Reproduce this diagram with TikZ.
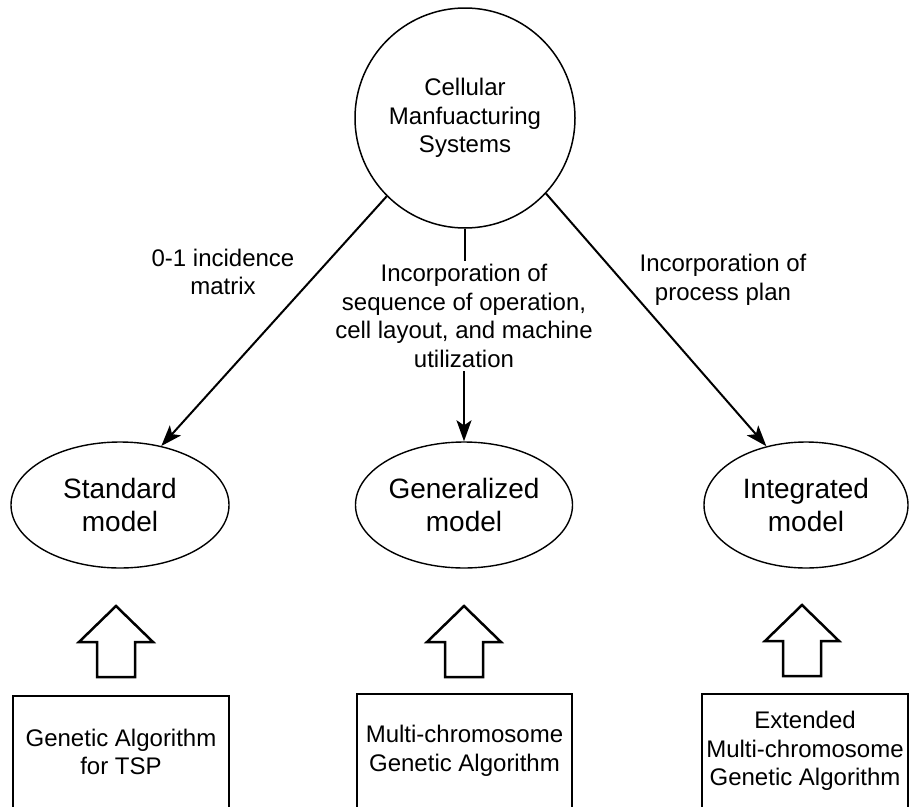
\documentclass[tikz,border=0pt]{standalone}
\usepackage{fontspec}
\setmainfont{Liberation Sans}
\usetikzlibrary{shapes.geometric,arrows.meta}
\begin{document}
\begin{tikzpicture}[x=1pt,y=-1pt,
  every node/.style={font=\fontsize{24}{28.5}\selectfont, align=center},
  hub/.style={circle, draw, line width=1.5pt, minimum size=220pt, inner sep=0pt},
  model/.style={ellipse, draw, line width=1.4pt, minimum height=126pt, inner sep=0pt,
                font=\fontsize{28}{33}\selectfont},
  method/.style={rectangle, draw, line width=1.3pt, inner sep=0pt, minimum height=114pt},
  link/.style={line width=2pt, -{Stealth[length=21pt,width=15pt,inset=5pt]}},
  stub/.style={line width=2pt},
  hollow/.style={draw, line width=2.5pt, line join=miter},
  upblock/.pic={\path[hollow] (-19,35) -- (-19,0) -- (-37,0) -- (0,-36)
                 -- (37,0) -- (19,0) -- (19,35) -- cycle;}
]
\useasboundingbox (0,0) rectangle (910,806);

% top concept
\node[hub] (cms) at (465,118) {Cellular\\Manfuacturing\\Systems};

% the three models
\node[model, minimum width=218pt] (std) at (120,505) {Standard\\model};
\node[model, minimum width=217pt] (gen) at (464,505) {Generalized\\model};
\node[model, minimum width=204pt] (int) at (806,505) {Integrated\\model};

% edge labels
\node (lblstd) at (223,272) {0-1 incidence\\matrix};
\node (lblgen) at (464,316) {Incorporation of\\sequence of operation,\\cell layout, and machine\\utilization};
\node (lblint) at (723,280) {Incorporation of\\process plan};

% connectors
\draw[link] (cms.225) -- (std.55);
\draw[link] (cms.-43) -- (int.124);
\draw[stub] (cms.south) -- (cms.south |- lblgen.north);
\draw[link] (gen.north |- lblgen.south) -- (gen.north);

% solution methods (their lower edges run just past the page)
\node[method, minimum width=216pt, minimum height=112pt] (ga) at (121,752) {Genetic Algorithm\\for TSP};
\node[method, minimum width=215pt] (mcga) at (464.5,751) {Multi-chromosome\\Genetic Algorithm};
\node[method, minimum width=206pt] (emcga) at (805,751) {Extended\\Multi-chromosome\\Genetic Algorithm};

% block arrows from methods to models
\pic at (116,642) {upblock};
\pic at (464,642) {upblock};
\pic at (802,641) {upblock};
\end{tikzpicture}
\end{document}
